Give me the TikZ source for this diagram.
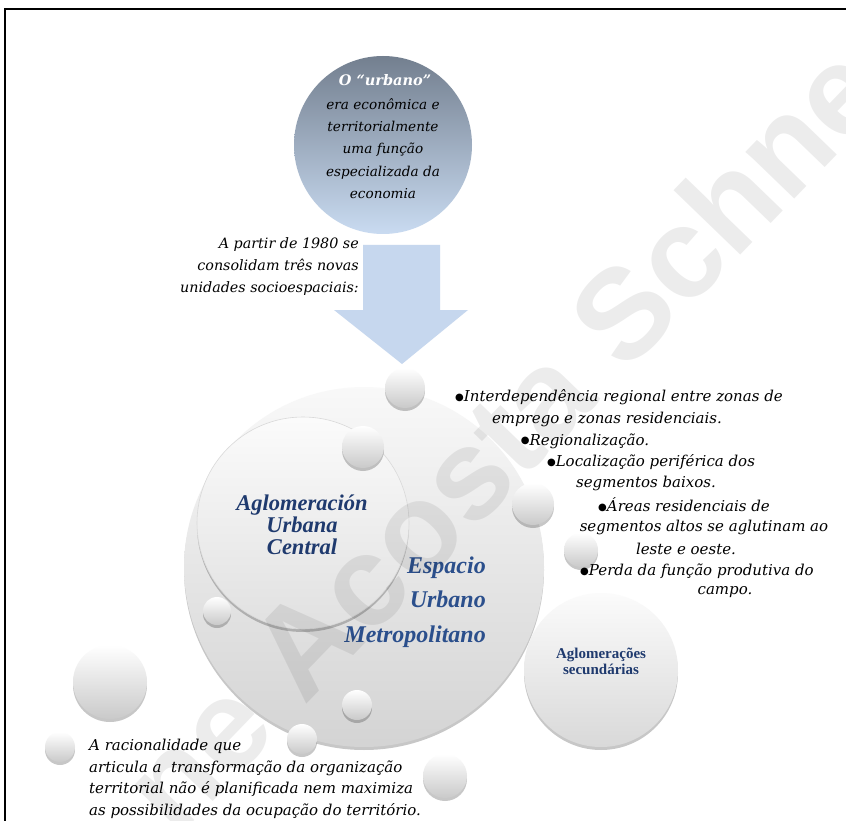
\documentclass[tikz,border=0pt]{standalone}
\usepackage{fontspec}
\setmainfont{DejaVu Serif}
\newfontfamily\libserif{Liberation Serif}
\newfontfamily\wmfont{Liberation Sans}
\newfontfamily\symfont{DejaVu Sans}
\usetikzlibrary{shadows}
\definecolor{navy}{HTML}{1F3A6E}
\definecolor{espblue}{HTML}{2B4F8C}
\definecolor{arrowblue}{HTML}{C6D7EE}
\definecolor{topdark}{HTML}{737F8F}
\definecolor{toplight}{HTML}{C9DBF1}
\newcommand{\bul}{\raisebox{1.2pt}{\symfont\fontsize{10}{10}\selectfont ●}}
\begin{document}
\begin{tikzpicture}[x=1pt,y=-1pt,
  softshadow/.style={drop shadow={shadow xshift=0pt,shadow yshift=-3pt,opacity=0.22,fill=black}},
  ball/.style={circle,draw=none,inner sep=0pt,top color=white,bottom color=gray!42,softshadow},
  bigcirc/.style={circle,draw=none,inner sep=0pt,top color=gray!5,bottom color=gray!34,softshadow},
  body/.style={font=\fontsize{15}{21.5}\selectfont\itshape,text=black,inner sep=0pt},
  ctitle/.style={font=\libserif\fontsize{22.5}{22}\selectfont\bfseries\itshape,text=navy,align=center,inner sep=0pt},
  etitle/.style={font=\libserif\fontsize{24}{34.5}\selectfont\bfseries\itshape,text=espblue,align=right,inner sep=0pt},
  stitle/.style={font=\libserif\fontsize{15}{16}\selectfont\bfseries,text=navy,align=center,inner sep=0pt},
]
\useasboundingbox (0,0) rectangle (846,821);
\clip (0,0) rectangle (846,821);
\fill[white] (0,0) rectangle (846,821);
% frame
\draw[line width=1.5pt,black] (5,9) rectangle (900,900);

% top circle
\node[circle,draw=none,inner sep=0pt,minimum size=178pt,top color=topdark,bottom color=toplight] (urb) at (383,145) {};
\node[font=\fontsize{14.5}{22}\selectfont\bfseries\itshape,text=white,inner sep=0pt] (urbt) at (385,80) {O “urbano”};
\node[body,align=center,font=\fontsize{13.6}{22.2}\selectfont\itshape] (urbb) at (383,148.5) {era econômica e\\territorialmente\\uma função\\especializada da\\economia};

% arrow
\coordinate (atip) at (402,364);
\fill[arrowblue] (363,245) -- (440,245) -- (440,310) -- (468,310) -- (atip) -- (334,310) -- (363,310) -- cycle;

\node[body,align=right,anchor=east,font=\fontsize{14.3}{22}\selectfont\itshape] (partir) at (359,267) {A partir de 1980 se\\consolidam três novas\\unidades socioespaciais:};

% main circles
\node[bigcirc,minimum size=360pt] (metro) at (364,567) {};
\node[circle,inner sep=0pt,minimum size=212pt,top color=gray!3,bottom color=gray!24,draw=gray!30,line width=0.6pt,softshadow] (central) at (303,523) {};
\node[ball,minimum size=154pt,top color=gray!3,bottom color=gray!30] (sec) at (601,670) {};

% small balls
\node[ball,minimum size=40pt] (b1) at (405,388) {};
\node[ball,minimum size=42pt] (b2) at (363,447) {};
\node[ball,minimum size=42pt] (b3) at (533,504) {};
\node[ball,minimum size=34pt] (b4) at (581,550) {};
\node[ball,minimum size=28pt] (b5) at (217,611) {};
\node[ball,minimum size=30pt] (b6) at (357,705) {};
\node[ball,minimum size=30pt] (b7) at (302,739) {};
\node[ball,minimum size=74pt] (b8) at (110,682) {};
\node[ball,minimum size=30pt] (b9) at (60,747) {};
\node[ball,minimum size=44pt] (b10) at (445,776) {};

% titles
\node[ctitle] (centralt) at (302,525) {Aglomeración\\Urbana\\Central};
\node[etitle,anchor=east] (metrot) at (486,602) {Espacio\\Urbano\\Metropolitano};
\node[stitle] (sect) at (601,661) {Aglomerações\\secundárias};

% bullets
\node[body] (l1) at (619,397) {\bul Interdependência regional entre zonas de};
\node[body] (l2) at (607,419) {emprego e zonas residenciais.};
\node[body] (l3) at (585,441) {\bul Regionalização.};
\node[body] (l4) at (651,462) {\bul Localização periférica dos};
\node[body] (l5) at (646,483) {segmentos baixos.};
\node[body] (l6) at (684,505) {\bul Áreas residenciais de};
\node[body] (l7) at (704,527) {segmentos altos se aglutinam ao};
\node[body] (l8) at (686,549) {leste e oeste.};
\node[body] (l9) at (697,571) {\bul Perda da função produtiva do};
\node[body] (l10) at (725,592) {campo.};

% bottom text
\node[body,align=left,anchor=west] (rac) at (89,779) {A racionalidade que\\articula a\ \ transformação da organização\\territorial não é planificada nem maximiza\\as possibilidades da ocupação do território.};

% watermark
\node[font=\wmfont\fontsize{128}{128}\selectfont\bfseries,text=black,text opacity=0.075,rotate=46,anchor=base west,inner sep=0pt] (wm) at (176,840) {ne Acosta Schne};
\end{tikzpicture}
\end{document}
